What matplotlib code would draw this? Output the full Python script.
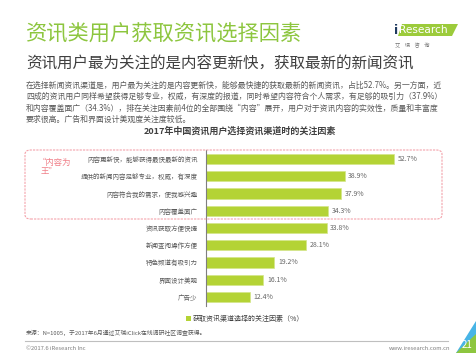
import matplotlib.pyplot as plt
from matplotlib.patches import FancyBboxPatch, Polygon, Rectangle

plt.rcParams['font.family'] = ['Noto Sans CJK SC', 'DejaVu Sans']

# data
factors = [
    "内容更新快，能够获得最快最新的资讯",
    "提供的新闻内容足够专业，权威，有深度",
    "内容符合我的需求，使我感兴趣",
    "内容覆盖面广",
    "资讯获取方便快捷",
    "新闻查阅操作方便",
    "特色频道有吸引力",
    "界面设计美观",
    "广告少",
]
shares = [52.7, 38.9, 37.9, 34.3, 33.8, 28.1, 19.2, 16.1, 12.4]

title = "资讯类用户获取资讯选择因素"
subtitle = "资讯用户最为关注的是内容更新快，获取最新的新闻资讯"
body_lines = [
    "在选择新闻资讯渠道是，用户最为关注的是内容更新快，能够最快捷的获取最新的新闻资讯，占比52.7%。另一方面，近",
    "四成的资讯用户同样希望获得足够专业，权威，有深度的报道，同时希望内容符合个人需求，有足够的吸引力（37.9%）",
    "和内容覆盖面广（34.3%），排在关注因素前4位的全部围绕“内容”展开，用户对于资讯内容的实效性，质量和丰富度",
    "要求很高。广告和界面设计美观度关注度较低。",
]
chart_title = "2017年中国资讯用户选择资讯渠道时的关注因素"
legend_label = "获取资讯渠道选择的关注因素（%）"
source = "来源：N=1005，于2017年6月通过艾瑞iClick在线调研社区调查获得。"

W, H = 476, 353
BAR = "#b4d335"
fig = plt.figure(figsize=(W / 100, H / 100), dpi=100)


def fx(px):
    return px / W


def fy(py):
    return 1 - py / H


# header
fig.text(fx(26), fy(35), title, fontsize=15.3, color="#8dc63f", va="center")
fig.text(fx(26), fy(63), subtitle, fontsize=11.2, color="#3f3f3f", va="center")
for i, line in enumerate(body_lines):
    fig.text(fx(26), fy(85 + i * 11.6), line, fontsize=5.7, color="#595959",
             va="center")

# logo
fig.patches.append(Polygon([[fx(398), fy(36)], [fx(402), fy(24)], [fx(458), fy(24)],
                            [fx(452), fy(36)]], closed=True, transform=fig.transFigure,
                           facecolor="#9ccb3b", edgecolor="none"))
fig.text(fx(394), fy(30), "i", fontsize=9, color="#1f3a5f", va="center",
         fontweight="bold", family="DejaVu Sans")
fig.text(fx(399), fy(30), "Research", fontsize=7.6, color="white", va="center",
         family="DejaVu Sans")
fig.text(fx(395), fy(45), "艾    瑞    咨    询", fontsize=3.8, color="#777777",
         va="center")

# chart
ax = fig.add_axes([fx(206), fy(305.6), fx(420) - fx(206), (305.6 - 150.4) / H])
y = range(len(factors))
ax.barh(y, shares, height=0.6, color=BAR, edgecolor="#d4e68a", linewidth=0.5)
for yi, v in zip(y, shares):
    ax.text(v + 1.0, yi, f"{v:.1f}%", va="center", fontsize=5, color="#666666")
ax.set_yticks(list(y))
ax.set_yticklabels(factors, fontsize=4.7, color="#595959")
ax.set_xlim(0, 60)
ax.set_ylim(len(factors) - 0.5, -0.5)
ax.set_xticks([])
ax.tick_params(axis="y", length=0, pad=6)
for s in ["top", "right", "bottom"]:
    ax.spines[s].set_visible(False)
ax.spines["left"].set_color("#7f7f7f")
ax.spines["left"].set_linewidth(0.8)

fig.text(fx(240), fy(131), chart_title, fontsize=6.5, fontweight="bold",
         color="#404040", ha="center", va="center")

# highlighted box
fig.patches.append(FancyBboxPatch((fx(25), fy(219)), fx(442) - fx(25), (219 - 150) / H,
                                  boxstyle="round,pad=0,rounding_size=0.012",
                                  transform=fig.transFigure, fill=False,
                                  edgecolor="#f4a3ab", linestyle=(0, (2, 1)),
                                  linewidth=0.8))
fig.text(fx(38), fy(162), "“内容为", fontsize=6, color="#f07d86", va="center")
fig.text(fx(41), fy(172), "王”", fontsize=6, color="#f07d86", va="center")

# legend
fig.patches.append(Rectangle((fx(186), fy(321)), fx(5), 5 / H, transform=fig.transFigure,
                             facecolor=BAR, edgecolor="none"))
fig.text(fx(193), fy(318.5), legend_label, fontsize=5, color="#404040", va="center")

# footer
fig.text(fx(26), fy(333), source, fontsize=4.2, color="#595959", va="center")
fig.add_artist(plt.Line2D([fx(25), fx(448)], [fy(341), fy(341)], color="#bfbfbf",
                          linewidth=0.8, transform=fig.transFigure))
fig.text(fx(26), fy(348), "©2017.6 iResearch Inc", fontsize=4.2, color="#7f7f7f",
         va="center")
fig.text(fx(450), fy(348), "www.iresearch.com.cn", fontsize=4.2, color="#7f7f7f",
         va="center", ha="right")

fig.patches.append(Polygon([[fx(476), fy(321)], [fx(476), fy(336)], [fx(460), fy(353)],
                            [fx(456), fy(353)]], closed=True, transform=fig.transFigure,
                           facecolor="#47b4e6", edgecolor="none"))
fig.patches.append(Polygon([[fx(476), fy(334)], [fx(476), fy(353)], [fx(456), fy(353)]],
                           closed=True, transform=fig.transFigure,
                           facecolor="#8dc63f", edgecolor="none"))
fig.text(fx(467), fy(345), "21", fontsize=7, color="white", va="center", ha="center")

fig.savefig("out.png", dpi=100, facecolor="white")
